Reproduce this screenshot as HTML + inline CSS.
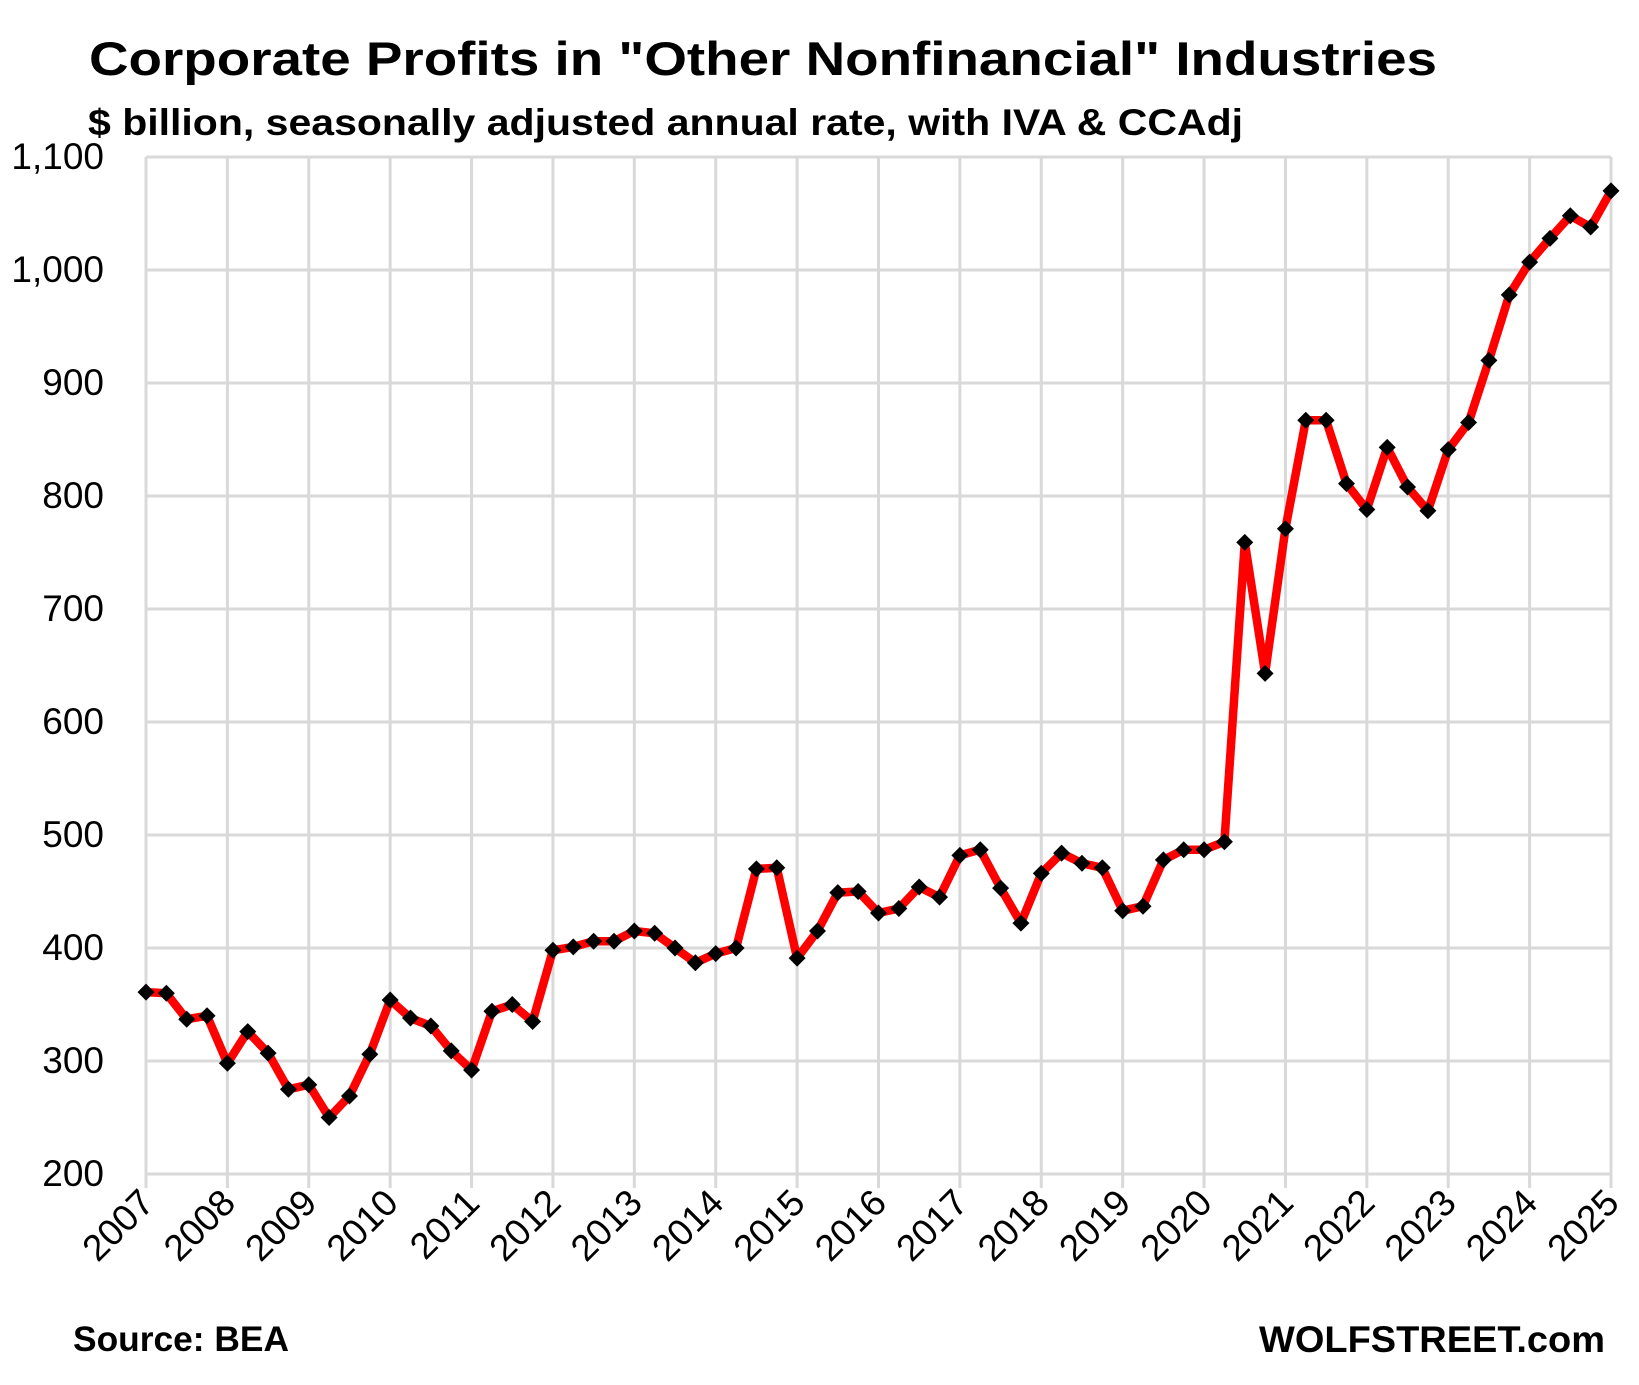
<!DOCTYPE html>
<html><head><meta charset="utf-8"><style>
html,body{margin:0;padding:0;background:#fff;}
svg{display:block;font-family:"Liberation Sans",sans-serif;}
</style></head><body>
<svg id="chart" width="1639" height="1385" viewBox="0 0 1639 1385" xmlns="http://www.w3.org/2000/svg">
<rect width="1639" height="1385" fill="#fff"/>
<text x="89" y="75" font-size="47" font-weight="bold" textLength="1348" lengthAdjust="spacingAndGlyphs">Corporate Profits in "Other Nonfinancial" Industries</text>
<text x="88" y="135" font-size="37" font-weight="bold" textLength="1155" lengthAdjust="spacingAndGlyphs">$ billion, seasonally adjusted annual rate, with IVA &amp; CCAdj</text>
<g id="grid"></g>
<g id="yticks"></g>
<g id="xticks"></g>
<g id="series"></g>
<text x="73" y="1351" font-size="35" font-weight="bold" textLength="216" lengthAdjust="spacingAndGlyphs">Source: BEA</text>
<text x="1259" y="1352" font-size="37" font-weight="bold" textLength="346" lengthAdjust="spacingAndGlyphs">WOLFSTREET.com</text>
</svg>
<script>
const years = [2007,2008,2009,2010,2011,2012,2013,2014,2015,2016,2017,2018,2019,2020,2021,2022,2023,2024,2025];
const yTicks = [200,300,400,500,600,700,800,900,1000,1100];
const yTickLabels = ["200","300","400","500","600","700","800","900","1,000","1,100"];
const profits = [
361,360,337,340, 298,326,307,275, 279,250,269,306, 354,338,331,309,
292,344,350,335, 398,401,406,406, 415,413,400,387, 395,400,470,471,
391,415,449,450, 431,435,454,445, 482,487,453,422, 466,484,475,471,
433,437,478,487, 487,494,759,643, 771,867,867,811, 788,843,808,787,
841,865,920,978, 1007,1028,1048,1038, 1070];

const NS = "http://www.w3.org/2000/svg";
const X0 = 146, X1 = 1611, Y0 = 1174, Y1 = 157;
const yMin = 200, yMax = 1100;
function xYear(yr){ return X0 + (yr - years[0]) / (years[years.length-1] - years[0]) * (X1 - X0); }
function xIdx(i){ return xYear(years[0] + i / 4); }
function yVal(v){ return Y0 - (v - yMin) / (yMax - yMin) * (Y0 - Y1); }
function mk(tag, attrs, parent){
  const e = document.createElementNS(NS, tag);
  for (const k in attrs) e.setAttribute(k, attrs[k]);
  parent.appendChild(e); return e;
}
const grid = document.getElementById('grid');
const yt = document.getElementById('yticks');
const xt = document.getElementById('xticks');
const ser = document.getElementById('series');

yTicks.forEach((v, i) => {
  const l = mk('line', {x1: X0, x2: X1, y1: yVal(v), y2: yVal(v), stroke: '#d9d9d9', 'stroke-width': 3}, grid);
  
  
  const t = mk('text', {x: 104, y: yVal(v) + 12, 'font-size': 37, 'text-anchor': 'end', fill: '#000'}, yt);
  t.textContent = yTickLabels[i];
  
  
});
years.forEach(yr => {
  const x = xYear(yr);
  const l = mk('line', {x1: x, x2: x, y1: Y1, y2: Y0 + 14, stroke: '#d9d9d9', 'stroke-width': 3}, grid);
  
  
  const t = mk('text', {x: x + 10, y: 1205, 'font-size': 37, 'text-anchor': 'end', fill: '#000', transform: 'rotate(-45 ' + (x + 10) + ' 1205)'}, xt);
  t.textContent = String(yr);
  
  
});
const pts = profits.map((v, i) => xIdx(i).toFixed(1) + ',' + yVal(v).toFixed(1)).join(' ');
const pl = mk('polyline', {points: pts, fill: 'none', stroke: '#ff0000', 'stroke-width': 8.5, 'stroke-linejoin': 'round'}, ser);


profits.forEach((v, i) => {
  const x = xIdx(i), y = yVal(v), r = 8.5;
  const m = mk('polygon', {points: `${x},${y-r} ${x+r},${y} ${x},${y+r} ${x-r},${y}`, fill: '#000'}, ser);
  
  
});
</script>
</body></html>
